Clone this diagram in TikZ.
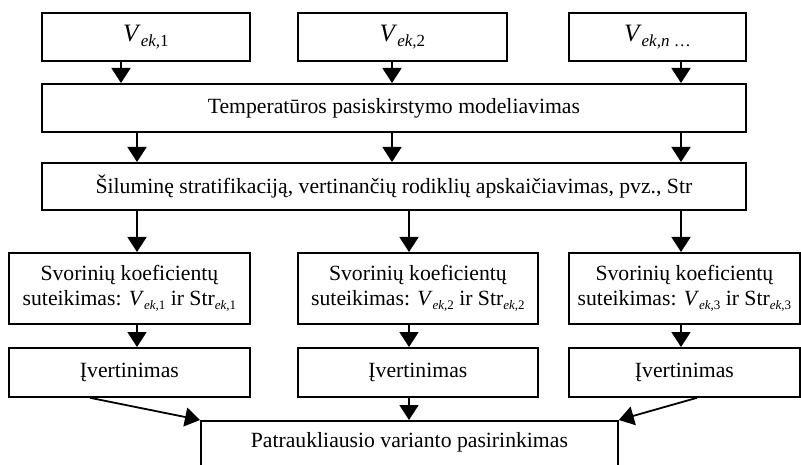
\documentclass[tikz,border=0pt]{standalone}
\usepackage{fontspec}
\setmainfont{Liberation Serif}
\usetikzlibrary{arrows.meta}
\newcommand\lsub[3]{\raisebox{-#2}{\fontsize{#1}{#1}\selectfont #3}}
\begin{document}
\begin{tikzpicture}[x=1pt,y=-1pt,
  box/.style={draw, line width=1.8pt, inner sep=0pt, align=center, anchor=north west,
    font=\fontsize{21.7}{25}\selectfont},
  arr/.style={line width=1.8pt, -{Triangle[width=19pt,length=15pt]}}]
\useasboundingbox (0,0) rectangle (801,465);
% top row
\node[box, minimum width=208, minimum height=48] (v1) at (41,12)
  {{\fontsize{25}{25}\selectfont\textit{V}\lsub{17pt}{5pt}{\textit{ek,}1}}};
\node[box, minimum width=209, minimum height=48] (v2) at (297,12)
  {{\fontsize{25}{25}\selectfont\textit{V}\lsub{17pt}{5pt}{\textit{ek,}2}}};
\node[box, minimum width=177, minimum height=48] (v3) at (568,12)
  {{\fontsize{25}{25}\selectfont\textit{V}\lsub{17pt}{5pt}{\textit{ek,n} \dots}}};
% wide boxes
\node[box, minimum width=704, minimum height=48] (temp) at (41,83)
  {Temperatūros pasiskirstymo modeliavimas};
\node[box, minimum width=704, minimum height=47] (sil) at (41,162)
  {Šiluminę stratifikaciją, vertinančių rodiklių apskaičiavimas, pvz., Str};
% weighting boxes
\node[box, minimum width=241, minimum height=71] (s1) at (8,252)
  {Svorinių koeficientų\\suteikimas: \textit{V}\lsub{13pt}{4pt}{\textit{ek,}1} ir Str\lsub{13pt}{4pt}{\textit{ek,}1}};
\node[box, minimum width=240, minimum height=71] (s2) at (297,252)
  {Svorinių koeficientų\\suteikimas: \textit{V}\lsub{13pt}{4pt}{\textit{ek,}2} ir Str\lsub{13pt}{4pt}{\textit{ek,}2}};
\node[box, minimum width=231, minimum height=71] (s3) at (568,252)
  {Svorinių koeficientų\\suteikimas: \textit{V}\lsub{13pt}{4pt}{\textit{ek,}3} ir Str\lsub{13pt}{4pt}{\textit{ek,}3}};
% evaluation boxes
\node[box, minimum width=241, minimum height=49] (i1) at (8,347) {Įvertinimas};
\node[box, minimum width=240, minimum height=49] (i2) at (297,347) {Įvertinimas};
\node[box, minimum width=231, minimum height=49] (i3) at (568,347) {Įvertinimas};
% final box (runs past the lower edge)
\node[box, minimum width=417, text height=27pt, text depth=40pt] (fin) at (200,420)
  {Patraukliausio varianto pasirinkimas};
% column coordinates
\coordinate (xa) at (121,0);
\coordinate (xb) at (392,0);
\coordinate (xc) at (681,0);
\coordinate (xd) at (137,0);
\coordinate (xe) at (409,0);
\coordinate (xf) at (90,0);
\coordinate (xg) at (697,0);
% arrows
\draw[arr] (v1.south -| xa) -- (temp.north -| xa);
\draw[arr] (v2.south -| xb) -- (temp.north -| xb);
\draw[arr] (v3.south -| xc) -- (temp.north -| xc);
\draw[arr] (temp.south -| xd) -- (sil.north -| xd);
\draw[arr] (temp.south -| xb) -- (sil.north -| xb);
\draw[arr] (temp.south -| xc) -- (sil.north -| xc);
\draw[arr] (sil.south -| xd) -- (s1.north -| xd);
\draw[arr] (sil.south -| xe) -- (s2.north -| xe);
\draw[arr] (sil.south -| xc) -- (s3.north -| xc);
\draw[arr] (s1.south -| xd) -- (i1.north -| xd);
\draw[arr] (s2.south -| xe) -- (i2.north -| xe);
\draw[arr] (s3.south -| xc) -- (i3.north -| xc);
\draw[arr] (i1.south -| xf) -- (fin.north west);
\draw[arr] (i2.south -| xe) -- (fin.north -| xe);
\draw[arr] (i3.south -| xg) -- (fin.north east);
\end{tikzpicture}
\end{document}
